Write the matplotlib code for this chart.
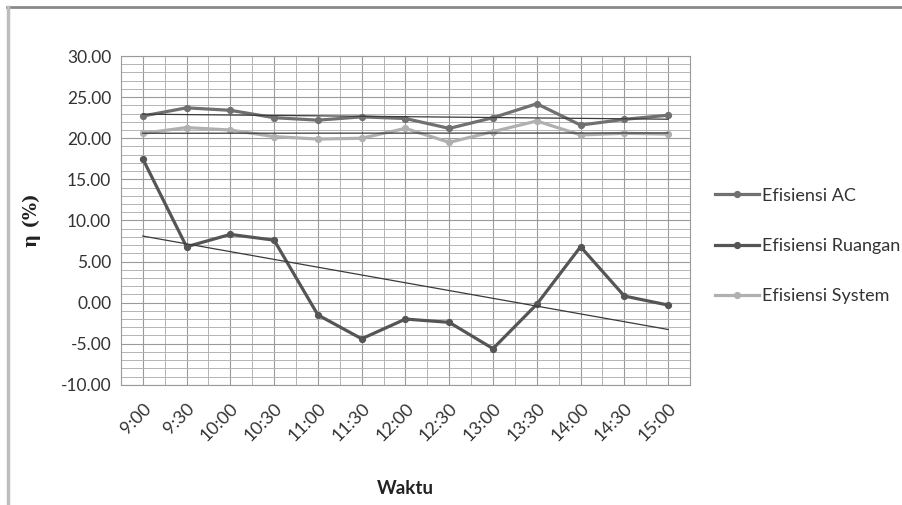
import numpy as np
import matplotlib.pyplot as plt
from matplotlib.lines import Line2D

# Efisiensi per jam pengukuran (%)
waktu = ['9:00', '9:30', '10:00', '10:30', '11:00', '11:30', '12:00',
         '12:30', '13:00', '13:30', '14:00', '14:30', '15:00']
ef_ac = [22.7, 23.7, 23.4, 22.5, 22.2, 22.6, 22.4, 21.2, 22.5, 24.2, 21.6, 22.3, 22.8]
ef_ruangan = [17.5, 6.8, 8.3, 7.6, -1.5, -4.4, -2.0, -2.4, -5.6, -0.2, 6.8, 0.8, -0.3]
ef_system = [20.6, 21.3, 21.0, 20.2, 19.9, 20.0, 21.2, 19.5, 20.8, 22.1, 20.4, 20.6, 20.5]

plt.rcParams['font.family'] = ['Lato', 'DejaVu Sans']

fig = plt.figure(figsize=(9.02, 5.05), dpi=100)
ax = fig.add_axes([0.134, 0.238, 0.631, 0.651])

x = np.arange(len(waktu))

series = [
    (ef_ac, 'Efisiensi AC', '#707070'),
    (ef_ruangan, 'Efisiensi Ruangan', '#555555'),
    (ef_system, 'Efisiensi System', '#b0b0b0'),
]
for vals, name, col in series:
    ax.plot(x, vals, color=col, lw=2.3, marker='o', ms=4.2, label=name, zorder=3)

# linear trendlines
for vals, name, col in series:
    k, b = np.polyfit(x, vals, 1)
    ax.plot(x, k * x + b, color='#3a3a3a', lw=0.9, zorder=4)

ax.set_xlim(-0.5, len(waktu) - 0.5)
ax.set_ylim(-10, 30)
ax.set_yticks(np.arange(-10, 31, 5))
ax.set_yticklabels([f'{v:.2f}' for v in np.arange(-10, 31, 5)], fontsize=12.5, color='#333333')
ax.set_yticks(np.arange(-10, 31, 1), minor=True)
ax.set_xticks(x)
ax.set_xticklabels(waktu, rotation=45, ha='right', rotation_mode='anchor',
                   fontsize=13, color='#333333')
ax.set_xticks(np.arange(-0.5, len(waktu), 1), minor=True)
ax.tick_params(which='both', length=0, pad=7)
ax.tick_params(axis='x', pad=11)

ax.grid(which='major', color='#9a9a9a', lw=0.8)
ax.grid(which='minor', color='#b4b4b4', lw=0.7)
ax.set_axisbelow(True)
for s in ax.spines.values():
    s.set_color('#9a9a9a')
    s.set_linewidth(0.8)

ax.set_xlabel('Waktu', fontsize=13.5, fontweight='bold', color='#222222', labelpad=26)
ax.set_ylabel('η (%)', fontsize=13, fontweight='bold', family='DejaVu Serif',
              color='#222222', labelpad=14)

fig.legend(loc='center left', bbox_to_anchor=(0.775, 0.513), frameon=False,
           fontsize=13, handlelength=2.4, handletextpad=0.2, labelspacing=1.9,
           labelcolor='#333333')

# outer chart frame
fig.add_artist(Line2D([0.008, 1.0], [0.987, 0.987], color='#8a8a8a', lw=2))
fig.add_artist(Line2D([0.009, 0.009], [0.0, 0.987], color='#bdbdbd', lw=2.5))

fig.savefig('out.png', dpi=100)
